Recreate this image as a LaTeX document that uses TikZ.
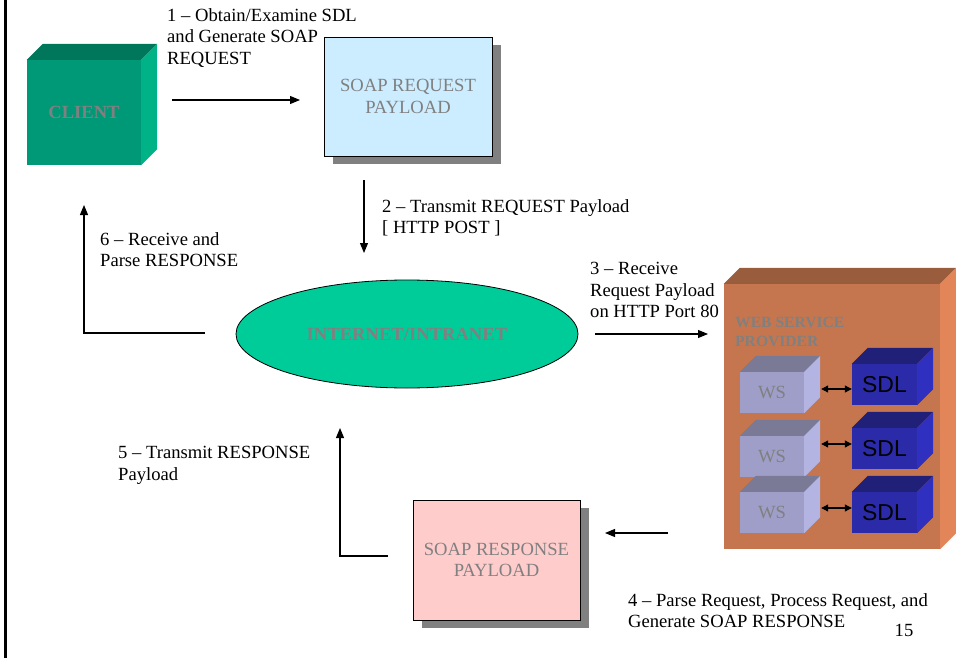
\documentclass[tikz,border=0pt]{standalone}
\usepackage{fontspec}
\setmainfont{Liberation Serif}
\newfontfamily\arialfont{Liberation Sans}
\usetikzlibrary{arrows.meta,shapes.geometric,shadows,calc}

\definecolor{clientfront}{RGB}{0,153,119}
\definecolor{clienttop}{RGB}{0,119,90}
\definecolor{clientside}{RGB}{0,179,134}
\definecolor{netfill}{RGB}{0,204,153}
\definecolor{reqfill}{RGB}{204,236,255}
\definecolor{respfill}{RGB}{255,204,204}
\definecolor{shadowgray}{RGB}{128,128,128}
\definecolor{labelgray}{RGB}{128,128,128}
\definecolor{wspfront}{RGB}{197,118,78}
\definecolor{wsptop}{RGB}{153,92,61}
\definecolor{wspside}{RGB}{226,133,88}
\definecolor{wsfront}{RGB}{158,158,200}
\definecolor{wstop}{RGB}{122,122,150}
\definecolor{wsside}{RGB}{180,180,226}
\definecolor{sdlfront}{RGB}{43,43,170}
\definecolor{sdltop}{RGB}{32,32,120}
\definecolor{sdlside}{RGB}{47,47,192}

% top and right faces of a cube whose front face is the node #1
\newcommand\cubefaces[4]{%
  \fill[#3] (#1.north west) -- ++(#2,-#2) -- ($(#1.north east)+(#2,-#2)$) -- (#1.north east) -- cycle;
  \fill[#4] (#1.north east) -- ++(#2,-#2) -- ($(#1.south east)+(#2,-#2)$) -- (#1.south east) -- cycle;}

\begin{document}
\begin{tikzpicture}[x=1pt,y=-1pt,
  txt/.style={font=\fontsize{18.6}{21.5}\selectfont},
  lbl/.style={txt, anchor=north west, inner sep=0pt, align=left},
  face/.style={inner sep=0pt, draw=none, text=labelgray},
  payload/.style={txt, draw=black, line width=0.9pt, inner sep=0pt, align=center, text=labelgray,
    drop shadow={shadow xshift=9pt, shadow yshift=-8pt, fill=shadowgray, opacity=1}},
  flow/.style={line width=1.1pt, -{Triangle[length=10pt,width=8pt]}},
  link/.style={line width=1.1pt, {Triangle[length=7pt,width=7pt]}-{Triangle[length=7pt,width=7pt]}}]
\useasboundingbox (0,0) rectangle (956,658);

% page frame on the left
\draw[line width=3pt] (5,0) -- (5,658);

% client
\node[face, txt, fill=clientfront, minimum width=114pt, minimum height=105pt] (client) at (84,112.5) {\textbf{CLIENT}};
\cubefaces{client}{16}{clienttop}{clientside}

% payload boxes
\node[payload, fill=reqfill, minimum width=168pt, minimum height=119pt] (req) at (408,96.5) {SOAP REQUEST\\PAYLOAD};
\node[payload, fill=respfill, minimum width=167pt, minimum height=120pt] (resp) at (496.5,560) {SOAP RESPONSE\\PAYLOAD};

% network
\node[ellipse, draw=black, line width=0.8pt, fill=netfill, minimum width=342pt, minimum height=108pt, inner sep=0pt, txt, text=labelgray] (net) at (407,334) {\textbf{INTERNET/INTRANET}};

% web service provider
\node[face, fill=wspfront, minimum width=216pt, minimum height=265pt] (wsp) at (832,416.5) {};
\cubefaces{wsp}{16}{wsptop}{wspside}
\node[anchor=north west, inner sep=0pt, align=left, text=labelgray, font=\fontsize{15.6}{19}\selectfont\bfseries] (wsplabel) at (735,317) {WEB SERVICE\\PROVIDER};

\foreach \i/\wy/\sy in {1/392.5/384.5, 2/456.5/448.5, 3/512.5/512.5} {
  \node[face, txt, fill=wsfront, minimum width=64pt, minimum height=41pt] (ws\i) at (772,\wy) {WS};
  \cubefaces{ws\i}{16}{wstop}{wsside}
  \node[face, fill=sdlfront, text=black, minimum width=65pt, minimum height=41pt, font=\arialfont\fontsize{23}{23}\selectfont] (sdl\i) at (884.5,\sy) {SDL};
  \cubefaces{sdl\i}{16}{sdltop}{sdlside}
}
\draw[link] ([xshift=17pt,yshift=3.5pt]ws1.east) -- ([yshift=-4.5pt]sdl1.west);
\draw[link] ([xshift=17pt,yshift=12.5pt]ws2.east) -- ([yshift=4.5pt]sdl2.west);
\draw[link] ([xshift=17pt,yshift=4.5pt]ws3.east) -- ([yshift=4.5pt]sdl3.west);

% step arrows
\coordinate (a1s) at (172,100);  \coordinate (a1e) at (300,100);
\coordinate (a2s) at (364,180);  \coordinate (a2e) at (364,253);
\coordinate (a3s) at (595,334);  \coordinate (a3e) at (708,334);
\coordinate (a4s) at (668,533);  \coordinate (a4e) at (605,533);
\coordinate (a5s) at (388,556);  \coordinate (a5c) at (340,556); \coordinate (a5e) at (340,428);
\coordinate (a6s) at (205,333);  \coordinate (a6c) at (84,333);  \coordinate (a6e) at (84,205);
\draw[flow] (a1s) -- (a1e);
\draw[flow] (a2s) -- (a2e);
\draw[flow] (a3s) -- (a3e);
\draw[flow] (a4s) -- (a4e);
\draw[flow] (a5s) -- (a5c) -- (a5e);
\draw[flow] (a6s) -- (a6c) -- (a6e);

% step labels
\node[lbl] (l1) at (167,8) {1 – Obtain/Examine SDL\\and Generate SOAP\\REQUEST};
\node[lbl] (l2) at (382,199) {2 – Transmit REQUEST Payload\\{[} HTTP POST ]};
\node[lbl] (l3) at (590,262) {3 – Receive\\Request Payload\\on HTTP Port 80};
\node[lbl] (l4) at (628,593) {4 – Parse Request, Process Request, and\\Generate SOAP RESPONSE};
\node[lbl] (l5) at (118,446) {5 – Transmit RESPONSE\\Payload};
\node[lbl] (l6) at (100,232) {6 – Receive and\\Parse RESPONSE};
\node[txt, inner sep=0pt] (page) at (904,630) {15};
\end{tikzpicture}
\end{document}
